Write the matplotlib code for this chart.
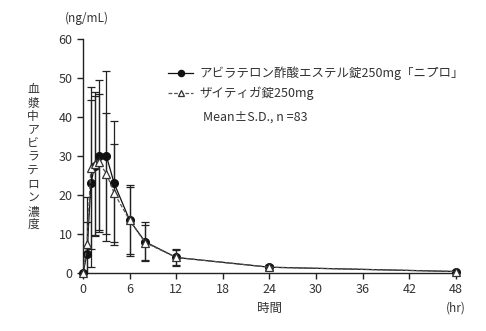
import matplotlib
matplotlib.use("Agg")
import matplotlib.pyplot as plt

plt.rcParams['font.family'] = ['Noto Sans CJK JP', 'DejaVu Sans']

# sampling times (hr)
hours = [0, 0.5, 1, 1.5, 2, 3, 4, 6, 8, 12, 24, 48]

# test tablet (filled circles)
test_mean = [0, 5.0, 23.0, 27.5, 30.0, 30.0, 23.0, 13.5, 8.0, 4.0, 1.5, 0.4]
test_sd = [0, 8.0, 21.5, 18.0, 19.4, 21.9, 15.9, 9.0, 5.0, 2.2, 0.6, 0.3]

# reference tablet (open triangles)
ref_mean = [0, 7.5, 27.0, 28.0, 28.5, 25.5, 20.5, 13.5, 7.8, 4.0, 1.5, 0.4]
ref_sd = [0, 12.0, 20.7, 18.3, 17.5, 15.6, 12.5, 8.5, 4.5, 2.0, 0.6, 0.3]

test_label = 'アビラテロン酢酸エステル錠250mg「ニプロ」'
ref_label = 'ザイティガ錠250mg'
note = 'Mean±S.D., n =83'

x_ticks = list(range(0, 49, 6))
y_ticks = list(range(0, 61, 10))

fig = plt.figure(figsize=(4.86, 3.31), dpi=100)
ax = fig.add_axes([0.171, 0.175, 0.767, 0.707])

err_kw = dict(fmt='none', ecolor='#222222', elinewidth=0.9, capsize=3,
              capthick=0.9)
# error bars are cut at the x axis
ax.errorbar(hours, ref_mean, yerr=ref_sd, zorder=2, **err_kw)
ax.errorbar(hours, test_mean, yerr=test_sd, zorder=2, **err_kw)

ax.plot(hours, test_mean, color='#111111', ls='-', lw=0.9,
        marker='o', ms=5.5, mfc='#111111', mec='#111111',
        label=test_label, clip_on=False, zorder=3)
ax.plot(hours, ref_mean, color='#555555', ls=(0, (3, 1.5)), lw=0.9,
        marker='^', ms=6, mfc='white', mec='#333333', mew=0.9,
        label=ref_label, clip_on=False, zorder=4)

ax.set_xlim(0, 48)
ax.set_ylim(0, 60)
ax.set_xticks(x_ticks)
ax.set_yticks(y_ticks)
for side in ('top', 'right'):
    ax.spines[side].set_visible(False)
for side in ('left', 'bottom'):
    ax.spines[side].set_linewidth(1.0)
    ax.spines[side].set_color('#222222')
ax.tick_params(direction='out', length=4, width=1.0, colors='#222222',
               labelsize=9, labelcolor='#333333')

leg = ax.legend(loc='upper left', bbox_to_anchor=(0.215, 0.905),
                frameon=False, fontsize=9, handlelength=2.0,
                handletextpad=0.5, labelspacing=0.55, borderaxespad=0,
                markerscale=0.8)
for t in leg.get_texts():
    t.set_color('#333333')
ax.text(0.322, 0.665, note, transform=ax.transAxes, fontsize=9,
        color='#333333', va='center')

fig.text(0.134, 0.945, '(ng/mL)', fontsize=8.5, color='#333333', va='center')
fig.text(0.555, 0.068, '時間', fontsize=9, color='#333333', ha='center', va='center')
fig.text(0.917, 0.068, '(hr)', fontsize=8.5, color='#333333', va='center')
fig.text(0.068, 0.525, '\n'.join('血漿中アビラテロン濃度'), fontsize=8.5,
         color='#333333', ha='center', va='center', linespacing=1.05)

fig.savefig('out.png', dpi=100)
